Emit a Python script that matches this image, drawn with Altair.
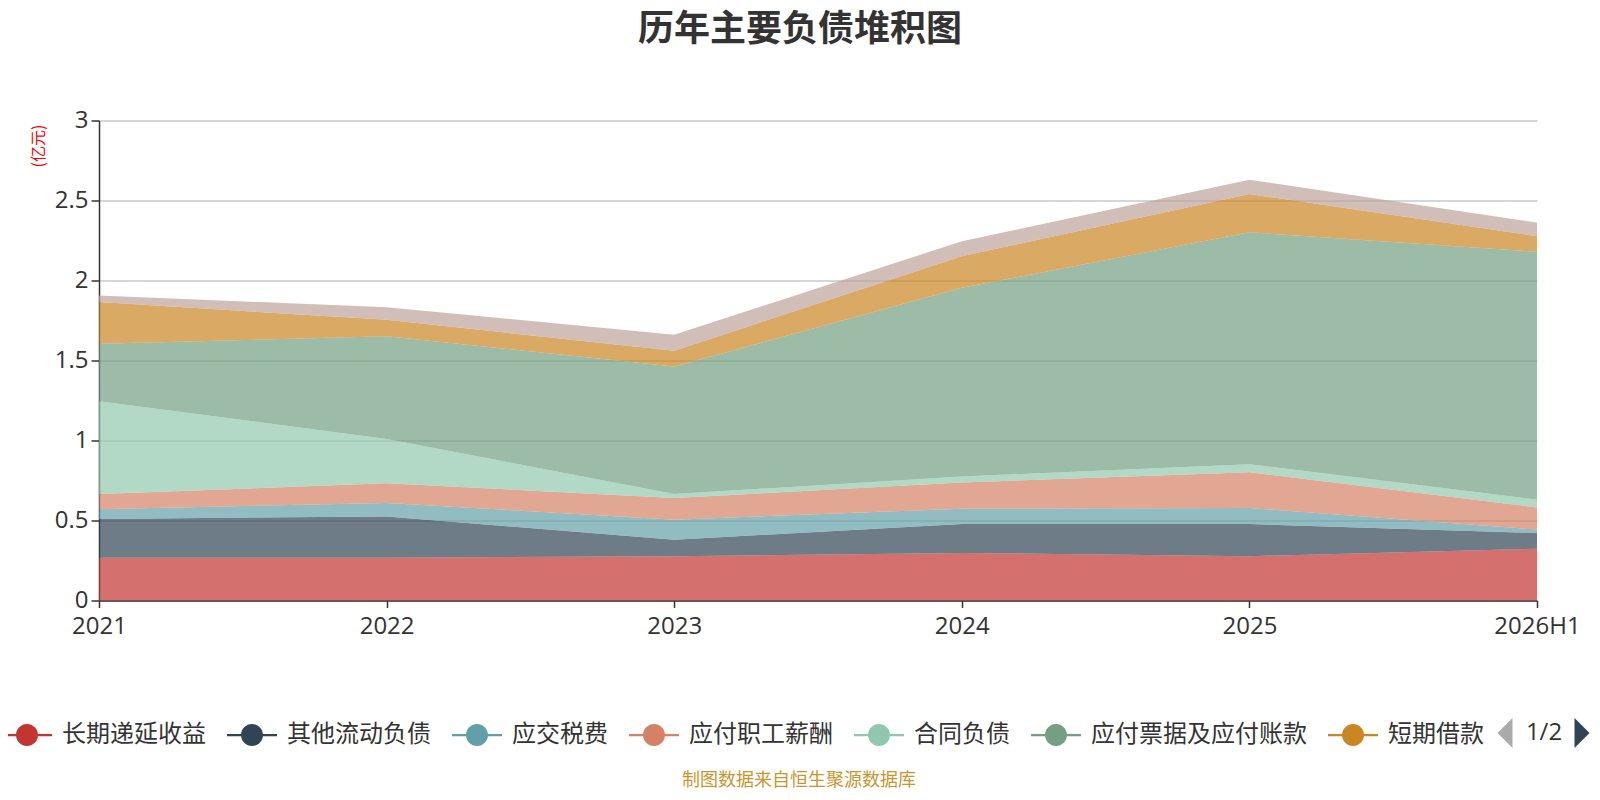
import altair as alt
import pandas as pd

years = ["2021", "2022", "2023", "2024", "2025", "2026H1"]
names = ["长期递延收益", "其他流动负债", "应交税费", "应付职工薪酬", "合同负债",
         "应付票据及应付账款", "短期借款", "其他应付款"]
colors = ["#c23531", "#2f4554", "#61a0a8", "#d48265", "#91c7ae",
          "#749f83", "#ca8622", "#bda29a"]

v_cqdy = [0.267, 0.267, 0.277, 0.297, 0.277, 0.324]
v_qtld = [0.243, 0.258, 0.103, 0.181, 0.201, 0.098]
v_yjsf = [0.061, 0.085, 0.125, 0.096, 0.100, 0.021]
v_zgxc = [0.094, 0.123, 0.135, 0.164, 0.224, 0.139]
v_htfz = [0.581, 0.277, 0.025, 0.037, 0.050, 0.048]
v_yfzk = [0.358, 0.642, 0.797, 1.179, 1.449, 1.549]
v_dqjk = [0.261, 0.102, 0.099, 0.198, 0.239, 0.098]
v_qtyf = [0.041, 0.079, 0.100, 0.093, 0.090, 0.085]
series = [v_cqdy, v_qtld, v_yjsf, v_zgxc, v_htfz, v_yfzk, v_dqjk, v_qtyf]

y_ticks = [0, 0.5, 1, 1.5, 2, 2.5, 3]

rows = []
for i, (n, vals) in enumerate(zip(names, series)):
    for y, v in zip(years, vals):
        rows.append({"year": y, "name": n, "value": v, "idx": i})
df = pd.DataFrame(rows)

CJK = "Noto Sans CJK SC"
LAT = "Open Sans"

legend_symbol = ("M-1,-0.045L1,-0.045L1,0.045L-1,0.045Z "
                 "M-0.44,0A0.44,0.44 0 1,1 0.44,0A0.44,0.44 0 1,1 -0.44,0Z")

areas = alt.Chart(df).mark_area(opacity=0.7, interpolate="linear").encode(
    x=alt.X("year:N", sort=years,
            scale=alt.Scale(type="point", padding=0),
            axis=alt.Axis(title=None, labelAngle=0, labelFont=LAT, labelFontSize=24,
                          labelColor="#333", labelPadding=7, labelOverlap=False,
                          domainColor="#333", domainWidth=1.5, tickColor="#333",
                          tickWidth=1.5, tickSize=7, grid=False)),
    y=alt.Y("value:Q", stack="zero",
            scale=alt.Scale(domain=[0, 3], nice=False),
            axis=alt.Axis(values=y_ticks, format="~g", title="(亿元)",
                          titleColor="#ff0000", titleFont=CJK, titleFontSize=16,
                          titleFontWeight="normal", titleAngle=270,
                          titleX=-61, titleY=25, titleAlign="center",
                          titleBaseline="middle",
                          labelFont=LAT, labelFontSize=24, labelColor="#333",
                          labelPadding=3, domainColor="#333", domainWidth=1.5,
                          tickColor="#333", tickWidth=1.5, tickSize=8,
                          gridColor="#c8c8c8", gridWidth=1.5)),
    color=alt.Color("name:N",
                    scale=alt.Scale(domain=names, range=colors),
                    legend=alt.Legend(orient="none", legendX=-97, legendY=589.5,
                                      direction="horizontal", columns=7,
                                      values=names[:7], title=None,
                                      symbolType=legend_symbol, symbolSize=2500,
                                      symbolStrokeWidth=0, symbolOpacity=1,
                                      labelFont=CJK, labelFontSize=24,
                                      labelColor="#333", labelOffset=10,
                                      columnPadding=21, labelLimit=0)),
    order=alt.Order("idx:Q", sort="ascending"),
)

one = pd.DataFrame({"t": ["x"]})

title = alt.Chart(one).mark_text(text="历年主要负债堆积图", font=CJK, fontSize=36,
                                 fontWeight="bold", color="#333",
                                 align="center", baseline="middle").encode(
    x=alt.value(701), y=alt.value(-90.5))

source = alt.Chart(one).mark_text(text="制图数据来自恒生聚源数据库", font=CJK,
                                  fontSize=18, color="#c9962e",
                                  align="center", baseline="middle").encode(
    x=alt.value(700), y=alt.value(660))

page_text = alt.Chart(one).mark_text(text="1/2", font=LAT, fontSize=24,
                                     color="#333", align="center",
                                     baseline="middle").encode(
    x=alt.value(1445), y=alt.value(612.5))

tri_left = alt.Chart(one).mark_point(shape="M0.5,-1L0.5,1L-0.5,0Z", filled=True,
                                     size=900, color="#aaaaaa", opacity=1).encode(
    x=alt.value(1406), y=alt.value(612.5))

tri_right = alt.Chart(one).mark_point(shape="M-0.5,-1L-0.5,1L0.5,0Z", filled=True,
                                      size=900, color="#2f4554", opacity=1).encode(
    x=alt.value(1483), y=alt.value(612.5))

chart = alt.layer(areas, title, source, page_text, tri_left, tri_right).properties(
    width=1438, height=480,
    autosize=alt.AutoSizeParams(type="none"),
    padding={"left": 91, "top": 112.5, "right": 55, "bottom": 191.5},
).configure_view(stroke=None)

chart.save("out.html", embed_options={"renderer": "svg", "actions": False})
